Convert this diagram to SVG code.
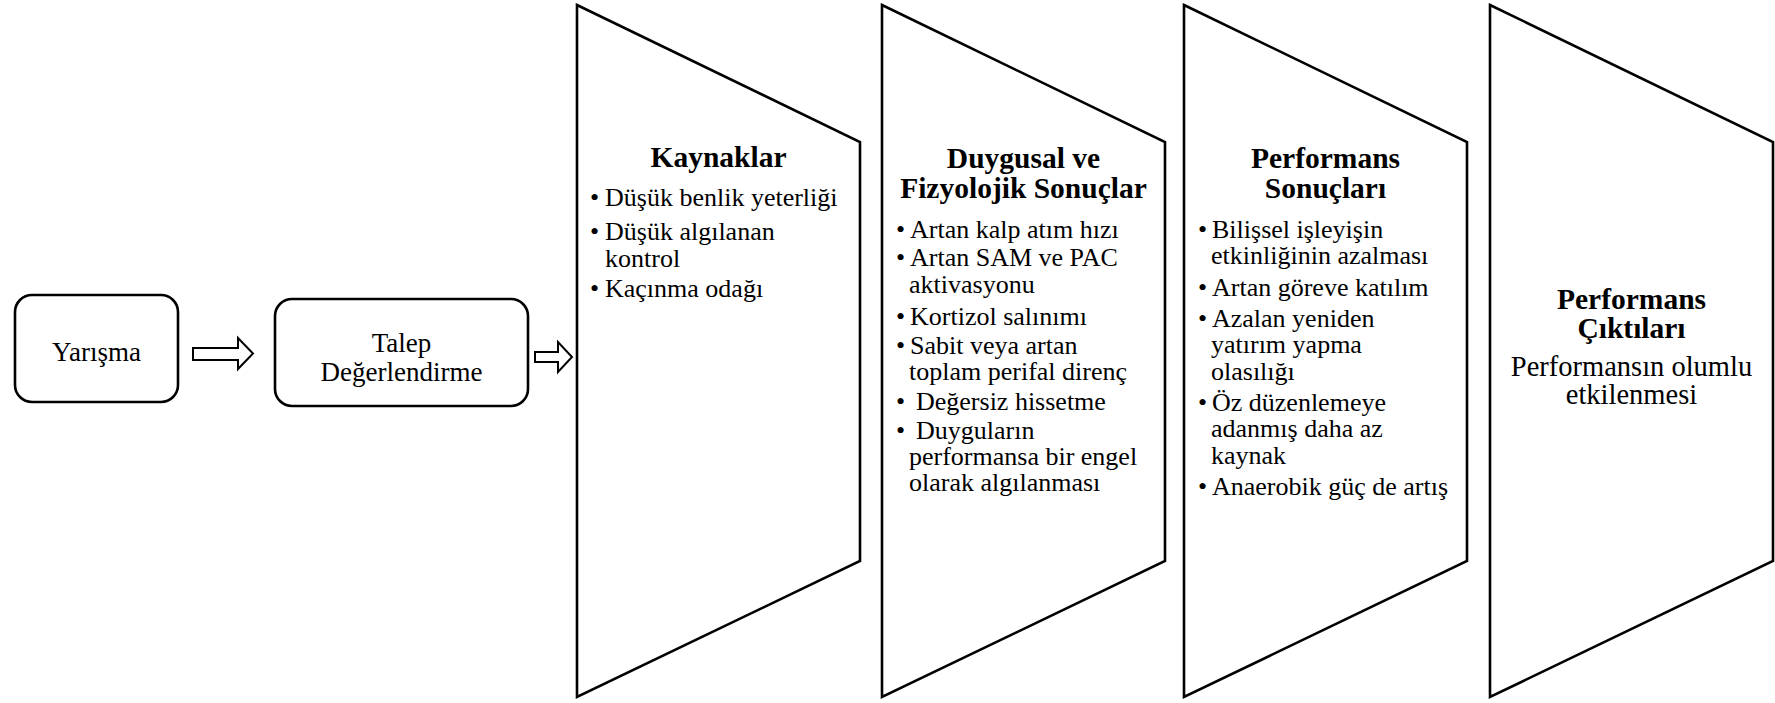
<svg xmlns="http://www.w3.org/2000/svg" width="1775" height="703" viewBox="0 0 1775 703">
<style>
  .shape { fill: #ffffff; stroke: #000000; stroke-width: 2.6; stroke-linejoin: miter; }
  .box { fill: #ffffff; stroke: #000000; stroke-width: 2.6; }
  .arrow { fill: #ffffff; stroke: #000000; stroke-width: 2; stroke-linejoin: miter; }
  .lbl { font-size: 27px; text-anchor: middle; }
  .title { font-size: 29.5px; font-weight: bold; text-anchor: middle; }
  .body { font-size: 26px; }
  .center { font-size: 28.5px; text-anchor: middle; }
</style>
<rect width="1775" height="703" fill="#ffffff"/>

<g id="connectors">
  <path class="arrow" d="M193,348 L238,348 L238,338 L253,353.5 L238,369 L238,360 L193,360 Z"/>
  <path class="arrow" d="M535,352 L558,352 L558,342 L572,357 L558,372 L558,362 L535,362 Z"/>
</g>

<g font-family="Liberation Serif, Times New Roman, DejaVu Serif, serif" fill="#000000">
<g id="node-yarisma">
  <rect class="box" x="15" y="295" width="163" height="107" rx="17" ry="17"/>
  <text class="lbl" x="96.5" y="361" font-size="28">Yarışma</text>
</g>

<g id="node-talep">
  <rect class="box" x="275" y="299" width="253" height="107" rx="17" ry="17"/>
  <text class="lbl" x="401.5" y="352">Talep</text>
  <text class="lbl" x="401.5" y="381">Değerlendirme</text>
</g>

<g id="node-kaynaklar">
  <polygon class="shape" points="577,5 860,142 860,561 577,697"/>
  <text class="title" x="718.5" y="167">Kaynaklar</text>
  <text class="body" x="590" y="206">•</text>
  <text class="body" x="605" y="206">Düşük benlik yeterliği</text>
  <text class="body" x="590" y="240">•</text>
  <text class="body" x="605" y="240">Düşük algılanan</text>
  <text class="body" x="605" y="267">kontrol</text>
  <text class="body" x="590" y="297">•</text>
  <text class="body" x="605" y="297">Kaçınma odağı</text>
</g>

<g id="node-duygusal">
  <polygon class="shape" points="882,5 1165,142 1165,561 882,697"/>
  <text class="title" x="1023.5" y="168">Duygusal ve</text>
  <text class="title" x="1023.5" y="198">Fizyolojik Sonuçlar</text>
  <text class="body" x="896" y="238">•</text>
  <text class="body" x="910" y="238">Artan kalp atım hızı</text>
  <text class="body" x="896" y="266">•</text>
  <text class="body" x="910" y="266">Artan SAM ve PAC</text>
  <text class="body" x="909" y="293">aktivasyonu</text>
  <text class="body" x="896" y="325">•</text>
  <text class="body" x="910" y="325">Kortizol salınımı</text>
  <text class="body" x="896" y="354">•</text>
  <text class="body" x="910" y="354">Sabit veya artan</text>
  <text class="body" x="909" y="380">toplam perifal direnç</text>
  <text class="body" x="896" y="410">•</text>
  <text class="body" x="916" y="410">Değersiz hissetme</text>
  <text class="body" x="896" y="439">•</text>
  <text class="body" x="916" y="439">Duyguların</text>
  <text class="body" x="909" y="465">performansa bir engel</text>
  <text class="body" x="909" y="491">olarak algılanması</text>
</g>

<g id="node-performans-sonuclari">
  <polygon class="shape" points="1184,5 1467,142 1467,561 1184,697"/>
  <text class="title" x="1325.5" y="168">Performans</text>
  <text class="title" x="1325.5" y="198">Sonuçları</text>
  <text class="body" x="1198" y="238">•</text>
  <text class="body" x="1212" y="238">Bilişsel işleyişin</text>
  <text class="body" x="1211" y="264">etkinliğinin azalması</text>
  <text class="body" x="1198" y="296">•</text>
  <text class="body" x="1212" y="296">Artan göreve katılım</text>
  <text class="body" x="1198" y="327">•</text>
  <text class="body" x="1212" y="327">Azalan yeniden</text>
  <text class="body" x="1211" y="353">yatırım yapma</text>
  <text class="body" x="1211" y="380">olasılığı</text>
  <text class="body" x="1198" y="411">•</text>
  <text class="body" x="1212" y="411">Öz düzenlemeye</text>
  <text class="body" x="1211" y="437">adanmış daha az</text>
  <text class="body" x="1211" y="464">kaynak</text>
  <text class="body" x="1198" y="495">•</text>
  <text class="body" x="1212" y="495">Anaerobik güç de artış</text>
</g>

<g id="node-performans-ciktilari">
  <polygon class="shape" points="1490,5 1773,142 1773,561 1490,697"/>
  <text class="title" x="1631.5" y="309">Performans</text>
  <text class="title" x="1631.5" y="338">Çıktıları</text>
  <text class="center" x="1631.5" y="376">Performansın olumlu</text>
  <text class="center" x="1631.5" y="404">etkilenmesi</text>
</g>
</g>
</svg>
